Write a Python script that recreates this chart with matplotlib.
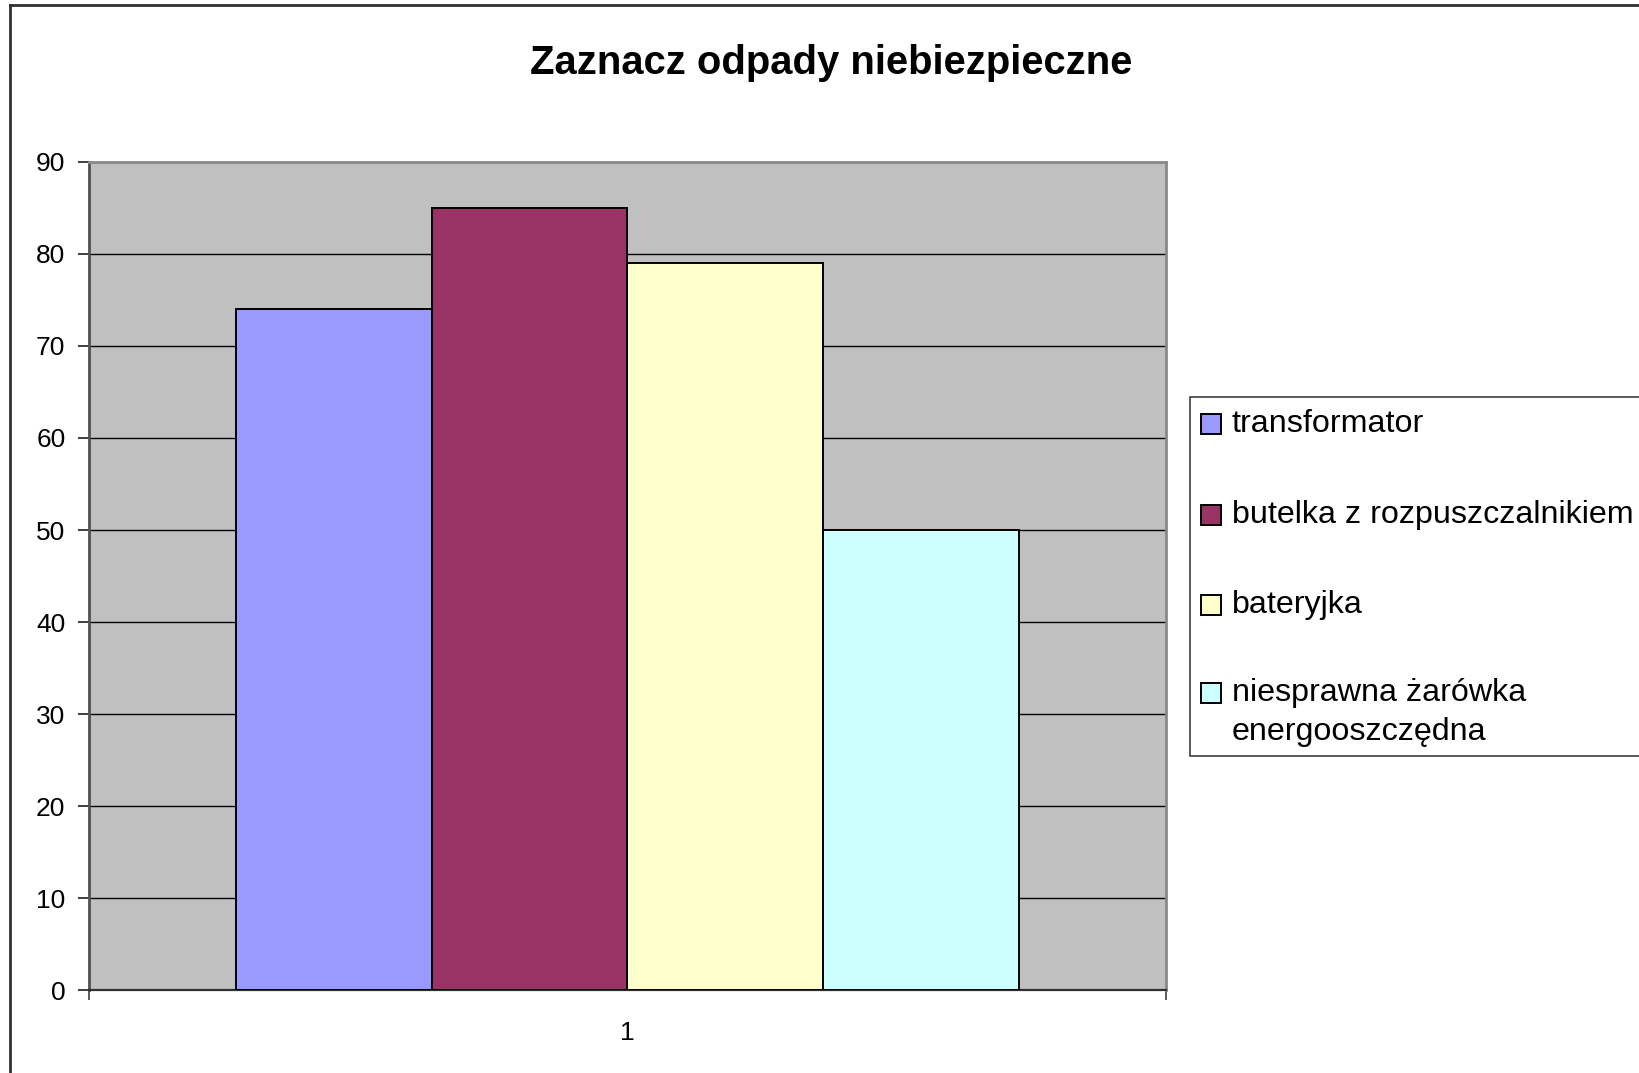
import matplotlib.pyplot as plt
from matplotlib.patches import Rectangle
from matplotlib.lines import Line2D
import numpy as np

# data
labels = ["transformator", "butelka z rozpuszczalnikiem", "bateryjka",
          "niesprawna żarówka\nenergooszczędna"]
values = [74, 85, 79, 50]
colors = ["#9999FF", "#993366", "#FFFFCC", "#CCFFFF"]
category = ["1"]
yticks = list(range(0, 100, 10))

plt.rcParams['font.family'] = ['Liberation Sans', 'DejaVu Sans']

W, H = 1639, 1073
fig = plt.figure(figsize=(W / 100, H / 100), dpi=100)


def fx(px):
    return px / W


def fy(py):
    return 1 - py / H


# plot area
ax = fig.add_axes([fx(89), fy(990), fx(1166) - fx(89), fy(162) - fy(990)])
ax.set_facecolor("#C0C0C0")

n = len(values)
w = 1 / (n + 1.5)
for i, (v, c) in enumerate(zip(values, colors)):
    x = 1 + (i - (n - 1) / 2) * w
    ax.bar(x, v, width=w, color=c, edgecolor="black", linewidth=1.4, zorder=3)

ax.set_xlim(0.5, 1.5)
ax.set_ylim(0, 90)
ax.set_yticks(yticks)
ax.set_xticks([1])
ax.set_xticklabels(category)
ax.set_xticks([0.5, 1.5], minor=True)
ax.tick_params(axis="x", which="major", length=0, labelsize=19, pad=22)
ax.tick_params(axis="x", which="minor", length=7, width=1.2, color="#404040")
ax.tick_params(axis="y", length=8, width=1.2, labelsize=19, pad=9, color="#202020")
ax.yaxis.grid(True, color="black", linewidth=1.0, zorder=1)
ax.set_axisbelow(True)

for s in ["top", "right"]:
    ax.spines[s].set_color("#8a8a8a")
    ax.spines[s].set_linewidth(2)
ax.spines["left"].set_color("#505050")
ax.spines["left"].set_linewidth(2)
ax.spines["bottom"].set_color("#303030")
ax.spines["bottom"].set_linewidth(1.6)

# title
fig.text(fx(831), fy(63), "Zaznacz odpady niebiezpieczne", ha="center", va="center",
         fontsize=28.8, fontweight="bold")

# chart frame (left and top edges)
fig.add_artist(Line2D([fx(10), fx(10)], [fy(5), 0], color="#303030", linewidth=2))
fig.add_artist(Line2D([fx(10), 1], [fy(5), fy(5)], color="#303030", linewidth=2))

# legend
fig.add_artist(Rectangle((fx(1190), fy(756)), fx(500), fy(397) - fy(756),
                         transform=fig.transFigure, facecolor="white",
                         edgecolor="#404040", linewidth=1.2))
row_y = [424, 515, 605, 693]
for lab, c, ry in zip(labels, colors, row_y):
    fig.add_artist(Rectangle((fx(1201), fy(ry + 10)), fx(20), fy(ry - 10) - fy(ry + 10),
                             transform=fig.transFigure, facecolor=c,
                             edgecolor="black", linewidth=1.4))
    for k, line in enumerate(lab.split("\n")):
        fig.text(fx(1232), fy(ry + 39 * k), line, ha="left", va="center", fontsize=23.2)

fig.savefig("out.png", dpi=100)
